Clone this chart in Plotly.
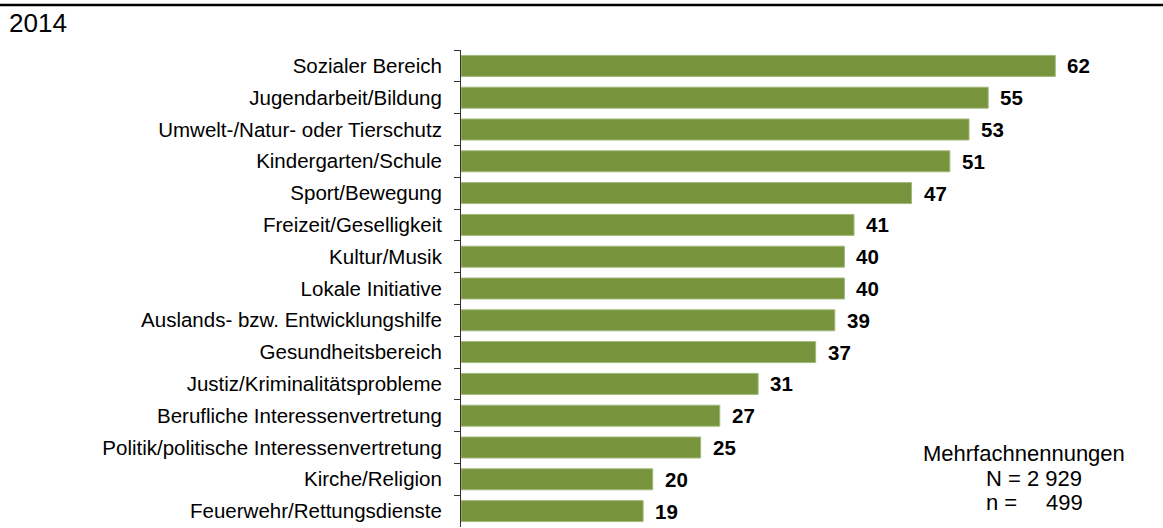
import plotly.graph_objects as go

categories = [
    "Sozialer Bereich",
    "Jugendarbeit/Bildung",
    "Umwelt-/Natur- oder Tierschutz",
    "Kindergarten/Schule",
    "Sport/Bewegung",
    "Freizeit/Geselligkeit",
    "Kultur/Musik",
    "Lokale Initiative",
    "Auslands- bzw. Entwicklungshilfe",
    "Gesundheitsbereich",
    "Justiz/Kriminalitätsprobleme",
    "Berufliche Interessenvertretung",
    "Politik/politische Interessenvertretung",
    "Kirche/Religion",
    "Feuerwehr/Rettungsdienste",
]
values = [62, 55, 53, 51, 47, 41, 40, 40, 39, 37, 31, 27, 25, 20, 19]
year_label = "2014"
note_lines = ["Mehrfachnennungen", "N = 2 929", "n =", "499"]

W, H = 1163, 528
ML, MR, MT, MB = 461, 31, 50, 1
PW = W - ML - MR
PH = H - MT - MB
FONT = "Liberation Sans, Arial, sans-serif"


def px_x(px):
    return (px - ML) / PW


def px_y(py):
    return (H - MB - py) / PH


fig = go.Figure()
fig.add_trace(go.Bar(
    x=values,
    y=categories,
    orientation="h",
    marker=dict(color="#77933C", line=dict(color="#a3b97c", width=1)),
    hoverinfo="x+y",
))

annotations = []
for c, v in zip(categories, values):
    annotations.append(dict(
        x=v, y=c, xref="x", yref="y", text=f"<b>{v}</b>", showarrow=False,
        xanchor="left", yanchor="middle", xshift=10,
        font=dict(family=FONT, size=20.5, color="#000"),
    ))

annotations.append(dict(
    x=px_x(7), y=px_y(23), xref="paper", yref="paper", text=year_label,
    showarrow=False, xanchor="left", yanchor="middle",
    font=dict(family=FONT, size=26, color="#000"),
))
annotations.append(dict(
    x=px_x(1024), y=px_y(453), xref="paper", yref="paper", text=note_lines[0],
    showarrow=False, xanchor="center", yanchor="middle",
    font=dict(family=FONT, size=22, color="#000"),
))
annotations.append(dict(
    x=px_x(984), y=px_y(478), xref="paper", yref="paper", text=note_lines[1],
    showarrow=False, xanchor="left", yanchor="middle",
    font=dict(family=FONT, size=22, color="#000"),
))
annotations.append(dict(
    x=px_x(984), y=px_y(502), xref="paper", yref="paper", text=note_lines[2],
    showarrow=False, xanchor="left", yanchor="middle",
    font=dict(family=FONT, size=22, color="#000"),
))
annotations.append(dict(
    x=px_x(1085), y=px_y(502), xref="paper", yref="paper", text=note_lines[3],
    showarrow=False, xanchor="right", yanchor="middle",
    font=dict(family=FONT, size=22, color="#000"),
))

fig.update_layout(
    width=W, height=H,
    margin=dict(l=ML, r=MR, t=MT, b=MB, pad=0),
    paper_bgcolor="white", plot_bgcolor="white",
    showlegend=False,
    bargap=0.34,
    font=dict(family=FONT, size=20.5, color="#000"),
    xaxis=dict(range=[0, 70], visible=False, fixedrange=True),
    yaxis=dict(
        categoryorder="array", categoryarray=categories, autorange="reversed",
        showline=True, linecolor="#333", linewidth=1,
        ticks="outside", ticklen=6, tickcolor="#333", tickwidth=1,
        tickson="boundaries", ticklabelstandoff=14,
        tickfont=dict(family=FONT, size=20.5, color="#000"),
        showgrid=False, zeroline=False, fixedrange=True,
    ),
    annotations=annotations,
    shapes=[dict(
        type="line", xref="paper", yref="paper",
        x0=px_x(0), x1=px_x(W), y0=px_y(5), y1=px_y(5),
        line=dict(color="#000", width=2.5),
    )],
)

fig.write_html(
    "out.html",
    config={"displayModeBar": False},
    post_script="document.body.style.margin='0';document.body.style.padding='0';",
)
